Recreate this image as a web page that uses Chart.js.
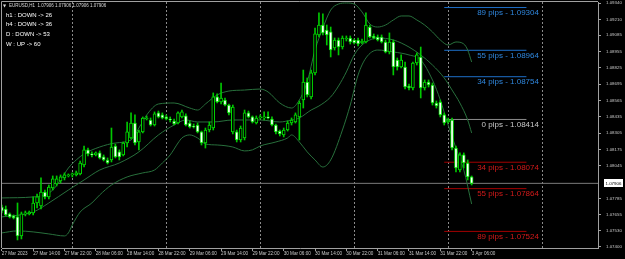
<!DOCTYPE html>
<html><head><meta charset="utf-8">
<script src="https://cdn.jsdelivr.net/npm/chart.js@4.4.0/dist/chart.umd.min.js"></script>
<style>html,body{margin:0;padding:0;background:#000;overflow:hidden}#wrap{position:relative;width:625px;height:259px}</style>
</head><body><div id="wrap"><canvas id="c" width="625" height="259"></canvas></div>
<script>
// ---------- data ----------
const symbolInfo = "EURUSD,H1  1.07906 1.07906 1.07906 1.07906";
const signals = ["h1 : DOWN -> 26", "h4 : DOWN -> 36", "D : DOWN -> 53", "W : UP -> 60"];

const opens = [1.07718,1.07702,1.07663,1.07647,1.07639,1.07488,1.07663,1.07663,1.07671,1.07750,
1.07726,1.07837,1.07798,1.07869,1.07901,1.07925,1.07949,1.07965,1.07973,1.07973,
1.07981,1.08052,1.08172,1.08140,1.08132,1.08148,1.08116,1.08092,1.08092,1.08203,
1.08156,1.08132,1.08227,1.08267,1.08386,1.08235,1.08315,1.08418,1.08410,1.08370,
1.08466,1.08450,1.08434,1.08418,1.08402,1.08386,1.08434,1.08442,1.08386,1.08362,
1.08370,1.08315,1.08227,1.08330,1.08346,1.08593,1.08553,1.08569,1.08529,1.08315,
1.08315,1.08251,1.08267,1.08466,1.08434,1.08386,1.08426,1.08426,1.08434,1.08418,
1.08370,1.08322,1.08291,1.08330,1.08386,1.08394,1.08434,1.08569,1.08712,1.08593,
1.08784,1.09086,1.09165,1.09125,1.09110,1.08982,1.09046,1.08990,1.09054,1.09062,
1.09046,1.09046,1.09022,1.09030,1.09149,1.09078,1.09070,1.09070,1.09030,1.08951,
1.09030,1.08887,1.08831,1.08831,1.08680,1.08664,1.08863,1.08911,1.08664,1.08712,
1.08688,1.08545,1.08553,1.08450,1.08394,1.08410,1.08187,1.08012,1.08132,1.08068,
1.07957];
const highs = [1.07734,1.07726,1.07671,1.07655,1.07750,1.07678,1.07686,1.07686,1.07798,1.07821,
1.07949,1.07853,1.07893,1.07965,1.07965,1.07973,1.07989,1.07981,1.07989,1.08004,
1.08084,1.08203,1.08187,1.08156,1.08156,1.08164,1.08132,1.08108,1.08346,1.08219,
1.08172,1.08235,1.08394,1.08466,1.08450,1.08330,1.08434,1.08442,1.08426,1.08474,
1.08481,1.08466,1.08450,1.08434,1.08418,1.08474,1.08489,1.08458,1.08402,1.08378,
1.08386,1.08322,1.08346,1.08394,1.08625,1.08617,1.08704,1.08585,1.08537,1.08529,
1.08330,1.08362,1.08489,1.08481,1.08442,1.08442,1.08450,1.08474,1.08474,1.08434,
1.08378,1.08330,1.08346,1.08402,1.08426,1.08466,1.08561,1.08807,1.08744,1.08807,
1.09141,1.09261,1.09253,1.09165,1.09149,1.09062,1.09062,1.09078,1.09078,1.09078,
1.09054,1.09062,1.09054,1.09261,1.09165,1.09094,1.09086,1.09086,1.09046,1.09102,
1.09046,1.08903,1.08927,1.08871,1.08696,1.08871,1.08943,1.08990,1.08728,1.08728,
1.08704,1.08561,1.08569,1.08466,1.08426,1.08426,1.08203,1.08148,1.08148,1.08092,
1.07965];
const lows = [1.07671,1.07647,1.07631,1.07623,1.07456,1.07464,1.07647,1.07655,1.07655,1.07710,
1.07702,1.07782,1.07782,1.07853,1.07885,1.07909,1.07933,1.07957,1.07957,1.07965,
1.07973,1.08036,1.08124,1.08116,1.08124,1.08100,1.08084,1.08060,1.08076,1.08108,
1.08092,1.08124,1.08195,1.08259,1.08211,1.08172,1.08307,1.08410,1.08362,1.08362,
1.08426,1.08418,1.08410,1.08394,1.08370,1.08378,1.08426,1.08362,1.08346,1.08346,
1.08307,1.08211,1.08187,1.08315,1.08330,1.08545,1.08537,1.08521,1.08450,1.08299,
1.08235,1.08235,1.08251,1.08426,1.08386,1.08378,1.08418,1.08410,1.08418,1.08362,
1.08299,1.08283,1.08275,1.08322,1.08370,1.08386,1.08251,1.08505,1.08593,1.08577,
1.08768,1.09070,1.09086,1.09006,1.08911,1.08966,1.08927,1.08974,1.09038,1.09014,
1.09014,1.08998,1.09014,1.09022,1.09062,1.09054,1.09038,1.09022,1.08943,1.08935,
1.08768,1.08807,1.08823,1.08656,1.08648,1.08648,1.08847,1.08585,1.08648,1.08672,
1.08529,1.08505,1.08434,1.08370,1.08386,1.08172,1.07997,1.07997,1.08028,1.07933,
1.07893];
const closes = [1.07686,1.07655,1.07639,1.07631,1.07488,1.07663,1.07671,1.07678,1.07750,1.07798,
1.07837,1.07798,1.07877,1.07941,1.07941,1.07957,1.07973,1.07973,1.07981,1.07989,
1.08068,1.08172,1.08140,1.08132,1.08148,1.08108,1.08092,1.08068,1.08195,1.08116,
1.08116,1.08227,1.08315,1.08386,1.08227,1.08315,1.08426,1.08426,1.08370,1.08458,
1.08434,1.08426,1.08418,1.08410,1.08378,1.08466,1.08474,1.08370,1.08354,1.08354,
1.08315,1.08227,1.08330,1.08370,1.08593,1.08553,1.08585,1.08529,1.08466,1.08513,
1.08251,1.08346,1.08466,1.08434,1.08394,1.08426,1.08434,1.08434,1.08426,1.08370,
1.08315,1.08299,1.08330,1.08386,1.08410,1.08450,1.08545,1.08712,1.08609,1.08784,
1.09094,1.09165,1.09102,1.09086,1.08966,1.09046,1.08990,1.09062,1.09062,1.09030,
1.09022,1.09014,1.09038,1.09165,1.09070,1.09062,1.09046,1.09030,1.08951,1.09030,
1.08831,1.08831,1.08887,1.08672,1.08664,1.08863,1.08927,1.08664,1.08712,1.08688,
1.08545,1.08521,1.08450,1.08386,1.08410,1.08187,1.08028,1.08132,1.08068,1.07957,
1.07906];

// Bollinger bands: [bar index, price]
const upperBand = [[0,1.07790],[8,1.07798],[11,1.07814],[13,1.07853],[15,1.07933],[17,1.08028],[19,1.08092],[21,1.08140],[25,1.08195],[29,1.08227],[33,1.08251],[35,1.08346],[37,1.08450],[40,1.08537],[44,1.08545],[48,1.08505],[50,1.08489],[52,1.08537],[55,1.08609],[58,1.08640],[62,1.08648],[66,1.08656],[68,1.08633],[71,1.08545],[74,1.08505],[76,1.08569],[78,1.08712],[80,1.08966],[82,1.09141],[84,1.09284],[86,1.09332],[88,1.09340],[90,1.09332],[92,1.09269],[94,1.09173],[96,1.09149],[98,1.09165],[100,1.09205],[102,1.09237],[104,1.09237],[106,1.09205],[108,1.09165],[110,1.09110],[112,1.09046],[114,1.09006],[116,1.09030],[118,1.09014],[119,1.08966],[120,1.08871]];
const middleBand = [[0,1.07639],[8,1.07678],[12,1.07750],[17,1.07853],[21,1.07933],[25,1.08012],[30,1.08068],[35,1.08156],[40,1.08291],[44,1.08370],[47,1.08410],[50,1.08394],[54,1.08394],[59,1.08410],[66,1.08410],[71,1.08394],[74,1.08410],[76,1.08426],[79,1.08489],[81,1.08521],[84,1.08593],[86,1.08680],[88,1.08792],[90,1.08927],[92,1.09006],[94,1.09046],[96,1.09062],[100,1.09046],[104,1.08990],[107,1.08927],[110,1.08847],[113,1.08744],[115,1.08648],[117,1.08545],[119,1.08410],[120,1.08307]];
const lowerBand = [[0,1.07512],[4,1.07528],[8,1.07520],[12,1.07504],[16,1.07488],[17,1.07512],[18,1.07575],[20,1.07678],[23,1.07750],[25,1.07814],[28,1.07893],[32,1.07957],[36,1.07989],[39,1.08012],[41,1.08068],[43,1.08132],[45,1.08227],[46,1.08267],[48,1.08291],[50,1.08267],[52,1.08219],[55,1.08211],[59,1.08195],[62,1.08164],[64,1.08172],[66,1.08203],[70,1.08235],[73,1.08267],[74,1.08291],[76,1.08235],[78,1.08156],[80,1.08092],[82,1.08036],[84,1.08092],[87,1.08330],[89,1.08529],[91,1.08768],[93,1.08903],[96,1.08966],[100,1.08951],[104,1.08927],[107,1.08887],[110,1.08728],[112,1.08569],[114,1.08370],[116,1.08187],[118,1.08012],[120,1.07742]];

const levelPips = [89, 55, 34, 0, -34, -55, -89];
const levelPrices = [1.09304, 1.08964, 1.08754, 1.08414, 1.08074, 1.07864, 1.07524];
const levelFromBar = 113, levelToBar = 134, levelLabelBar = 137.2;

const bidPrice = 1.07906;
const daySeparators = [18, 42, 66, 90, 114, 138];
const xTickIdx = [0, 8, 16, 24, 32, 40, 48, 56, 64, 72, 80, 88, 96, 104, 112, 120];
const xTickLabels = ["27 Mar 2023","27 Mar 14:00","27 Mar 22:00","28 Mar 06:00","28 Mar 14:00","28 Mar 22:00","29 Mar 06:00","29 Mar 14:00","29 Mar 22:00","30 Mar 06:00","30 Mar 14:00","30 Mar 22:00","31 Mar 06:00","31 Mar 14:00","31 Mar 22:00","3 Apr 06:00"];
const yTicks = [1.09340, 1.09210, 1.09085, 1.08955, 1.08825, 1.08695, 1.08565, 1.08435, 1.08305, 1.08175, 1.08045, 1.07785, 1.07655, 1.07530, 1.07400];

// ---------- chart ----------
const FONT = "'Liberation Sans', Arial, sans-serif";
const X_MIN = 0.04, X_MAX = 152.28, Y_MIN = 1.07392, Y_MAX = 1.09348;
const AXIS = '#a0a0a0', TXT = '#c8c8c8';
const bars = opens.map((_, i) => i);
const bandStyle = {type: 'line', borderColor: 'rgb(40,112,60)', borderWidth: 1, pointRadius: 0, tension: 0.4, cubicInterpolationMode: 'monotone', order: 3};

function levelColor(p) { return p > 0 ? ['#1d6fc8', '#2f86dc'] : p < 0 ? ['#a30000', '#d41a1a'] : ['#8c8c8c', '#c8c8c8']; }

const datasets = [
  {type: 'bar', data: bars.map(i => ({x: i, y: [opens[i], closes[i]]})), backgroundColor: bars.map(i => closes[i] >= opens[i] ? '#000000' : '#ffffff'),
   borderColor: '#00e000', borderWidth: 1, borderSkipped: false, barThickness: 3, minBarLength: 1, grouped: false, order: 0},
  {type: 'bar', data: bars.map(i => ({x: i, y: [lows[i], highs[i]]})), backgroundColor: '#00c800', borderWidth: 0, barThickness: 1, grouped: false, order: 1},
  Object.assign({data: upperBand.map(p => ({x: p[0], y: p[1]}))}, bandStyle),
  Object.assign({data: middleBand.map(p => ({x: p[0], y: p[1]}))}, bandStyle),
  Object.assign({data: lowerBand.map(p => ({x: p[0], y: p[1]}))}, bandStyle),
  {type: 'line', data: [{x: X_MIN, y: bidPrice}, {x: X_MAX, y: bidPrice}], borderColor: '#7a7a7a', borderWidth: 1, pointRadius: 0, order: 5}
];
levelPrices.forEach((p, k) => {
  datasets.push({type: 'line', data: [{x: levelFromBar, y: p}, {x: levelToBar, y: p}], borderColor: levelColor(levelPips[k])[0], borderWidth: 1, pointRadius: 0, order: 4});
});

const overlay = {
  id: 'overlay',
  beforeDatasetsDraw(chart) {
    const {ctx, chartArea: a, scales: {x}} = chart;
    ctx.save();
    ctx.strokeStyle = '#8a8a8a'; ctx.lineWidth = 1; ctx.setLineDash([2, 2]);
    daySeparators.forEach(d => {
      const px = Math.round(x.getPixelForValue(d)) + 0.5;
      ctx.beginPath(); ctx.moveTo(px, a.top); ctx.lineTo(px, a.bottom); ctx.stroke();
    });
    ctx.setLineDash([]); ctx.strokeStyle = AXIS;
    ctx.beginPath(); ctx.moveTo(a.left - 0.5, a.bottom); ctx.lineTo(a.left - 0.5, a.top - 0.5); ctx.lineTo(a.right, a.top - 0.5); ctx.stroke();
    ctx.restore();
  },
  afterDraw(chart) {
    const {ctx, scales: {x, y}} = chart;
    ctx.save();
    // level labels
    ctx.font = '8px ' + FONT; ctx.textAlign = 'right'; ctx.textBaseline = 'middle';
    levelPrices.forEach((p, k) => {
      ctx.fillStyle = levelColor(levelPips[k])[1];
      ctx.fillText(Math.abs(levelPips[k]) + ' pips - ' + p.toFixed(5), x.getPixelForValue(levelLabelBar), y.getPixelForValue(p) + 5.5);
    });
    // header & signals
    ctx.textAlign = 'left';
    ctx.fillStyle = '#d8d8d8';
    ctx.font = "4px 'DejaVu Sans'";
    ctx.fillText('\u25BC', 3, 5.5);
    ctx.font = '4.5px ' + FONT;
    ctx.fillText(symbolInfo, 9, 5.5);
    ctx.fillStyle = '#ffffff';
    ctx.font = '6px ' + FONT;
    signals.forEach((s, k) => ctx.fillText(s, 6, 15 + k * 9.7));
    // current price box
    const py = y.getPixelForValue(bidPrice);
    ctx.fillStyle = '#ffffff'; ctx.fillRect(604, Math.round(py) - 4, 19, 8);
    ctx.fillStyle = '#000000'; ctx.font = '4.4px ' + FONT;
    ctx.fillText(bidPrice.toFixed(5), 605.5, py);
    ctx.restore();
  }
};

new Chart(document.getElementById('c'), {
  type: 'bar',
  data: {datasets},
  plugins: [overlay],
  options: {
    animation: false, responsive: false, devicePixelRatio: 1,
    layout: {padding: {left: 2, top: 2, right: 0, bottom: 0}},
    plugins: {legend: {display: false}, tooltip: {enabled: false}},
    scales: {
      x: {
        type: 'linear', min: X_MIN, max: X_MAX, offset: false,
        afterBuildTicks: s => { s.ticks = xTickIdx.map(v => ({value: v})); },
        afterFit: s => { s.height = 11; s.paddingLeft = 0; s.paddingRight = 0; },
        ticks: {autoSkip: false, maxRotation: 0, minRotation: 0, align: 'start', padding: 0, color: TXT,
                font: {family: FONT, size: 4.6}, callback: (v, i) => xTickLabels[i]},
        grid: {display: true, drawOnChartArea: false, drawTicks: true, tickLength: 3, tickColor: AXIS, offset: false},
        border: {display: true, color: AXIS, width: 1}
      },
      y: {
        type: 'linear', position: 'right', min: Y_MIN, max: Y_MAX,
        afterBuildTicks: s => { s.ticks = yTicks.map(v => ({value: v})); },
        afterFit: s => { s.width = 27; s.paddingTop = 0; s.paddingBottom = 0; },
        ticks: {padding: 5, color: TXT, font: {family: FONT, size: 4.4}, callback: v => v.toFixed(5)},
        grid: {display: true, drawOnChartArea: false, drawTicks: true, tickLength: 3, tickColor: AXIS},
        border: {display: true, color: AXIS, width: 1}
      }
    }
  }
});
</script></body></html>
